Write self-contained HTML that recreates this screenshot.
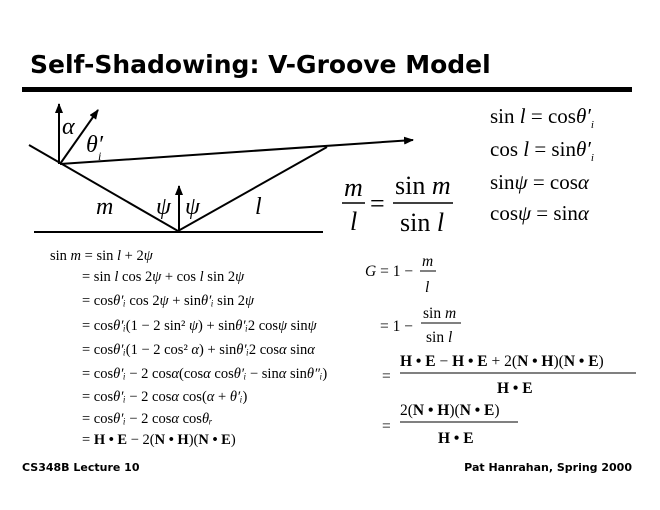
<!DOCTYPE html>
<html><head><meta charset="utf-8"><style>
html,body{margin:0;padding:0;background:#fff;}
svg{display:block}
.s{font-family:"Liberation Serif",serif;}
.b{font-family:"DejaVu Sans","Liberation Sans",sans-serif;font-weight:bold;}
</style></head><body>
<svg width="660" height="510" viewBox="0 0 660 510" xmlns="http://www.w3.org/2000/svg">
<defs><marker id="a" markerWidth="10" markerHeight="8" refX="9" refY="4" orient="auto" markerUnits="userSpaceOnUse"><path d="M0,0 L10,4 L0,8 Z" fill="#000"/></marker></defs>
<text class="b" x="30" y="73" font-size="25">Self-Shadowing: V-Groove Model</text>
<rect x="22" y="87" width="610" height="5" fill="#000"/>
<g stroke="#000" stroke-width="2" fill="none">
<polyline points="29,145 178,231 327,147"/>
<line x1="34" y1="232" x2="323" y2="232"/>
<line x1="60" y1="164" x2="413" y2="140" marker-end="url(#a)"/>
<line x1="59" y1="164" x2="59" y2="104" marker-end="url(#a)"/>
<line x1="60" y1="164" x2="98" y2="110" marker-end="url(#a)"/>
<line x1="179" y1="230" x2="179" y2="186" marker-end="url(#a)"/>
</g>
<g class="s" font-style="italic" font-size="24">
<text x="62" y="134">α</text>
<text x="86" y="152">θ′</text><text x="98" y="160" font-size="12">i</text>
<text x="96" y="214">m</text>
<text x="156" y="214">ψ</text>
<text x="185" y="214">ψ</text>
<text x="255" y="214">l</text>
</g>
<g class="s" font-size="26">
<text x="344" y="196" font-style="italic">m</text>
<line x1="342" y1="203" x2="365" y2="203" stroke="#000" stroke-width="1.5"/>
<text x="350" y="230" font-style="italic">l</text>
<text x="370" y="212">=</text>
<text x="395" y="194">sin <tspan font-style="italic">m</tspan></text>
<line x1="393" y1="203" x2="453" y2="203" stroke="#000" stroke-width="1.5"/>
<text x="400" y="231">sin <tspan font-style="italic">l</tspan></text>
</g>
<g class="s" font-size="21">
<text x="490" y="123">sin <tspan font-style="italic">l</tspan> = cos<tspan font-style="italic">θ′</tspan><tspan font-size="11" font-style="italic" dy="5">i</tspan></text>
<text x="490" y="156">cos <tspan font-style="italic">l</tspan> = sin<tspan font-style="italic">θ′</tspan><tspan font-size="11" font-style="italic" dy="5">i</tspan></text>
<text x="490" y="189">sin<tspan font-style="italic">ψ</tspan> = cos<tspan font-style="italic">α</tspan></text>
<text x="490" y="220">cos<tspan font-style="italic">ψ</tspan> = sin<tspan font-style="italic">α</tspan></text>
</g>
<g class="s" font-size="14.5">
<text x="50" y="260">sin <tspan font-style="italic">m</tspan> = sin <tspan font-style="italic">l</tspan> + 2<tspan font-style="italic">ψ</tspan></text>
<text x="82" y="281">= sin <tspan font-style="italic">l</tspan> cos 2<tspan font-style="italic">ψ</tspan> + cos <tspan font-style="italic">l</tspan> sin 2<tspan font-style="italic">ψ</tspan></text>
<text x="82" y="305">= cos<tspan font-style="italic">θ′ᵢ</tspan> cos 2<tspan font-style="italic">ψ</tspan> + sin<tspan font-style="italic">θ′ᵢ</tspan> sin 2<tspan font-style="italic">ψ</tspan></text>
<text x="82" y="330">= cos<tspan font-style="italic">θ′ᵢ</tspan>(1 − 2 sin² <tspan font-style="italic">ψ</tspan>) + sin<tspan font-style="italic">θ′ᵢ</tspan>2 cos<tspan font-style="italic">ψ</tspan> sin<tspan font-style="italic">ψ</tspan></text>
<text x="82" y="354">= cos<tspan font-style="italic">θ′ᵢ</tspan>(1 − 2 cos² <tspan font-style="italic">α</tspan>) + sin<tspan font-style="italic">θ′ᵢ</tspan>2 cos<tspan font-style="italic">α</tspan> sin<tspan font-style="italic">α</tspan></text>
<text x="82" y="378">= cos<tspan font-style="italic">θ′ᵢ</tspan> − 2 cos<tspan font-style="italic">α</tspan>(cos<tspan font-style="italic">α</tspan> cos<tspan font-style="italic">θ′ᵢ</tspan> − sin<tspan font-style="italic">α</tspan> sin<tspan font-style="italic">θ″ᵢ</tspan>)</text>
<text x="82" y="401">= cos<tspan font-style="italic">θ′ᵢ</tspan> − 2 cos<tspan font-style="italic">α</tspan> cos(<tspan font-style="italic">α</tspan> + <tspan font-style="italic">θ′ᵢ</tspan>)</text>
<text x="82" y="423">= cos<tspan font-style="italic">θ′ᵢ</tspan> − 2 cos<tspan font-style="italic">α</tspan> cos<tspan font-style="italic">θᵣ</tspan></text>
<text x="82" y="444">= <tspan font-weight="bold">H • E</tspan> − 2(<tspan font-weight="bold">N • H</tspan>)(<tspan font-weight="bold">N • E</tspan>)</text>
</g>
<g class="s" font-size="15.5" stroke-width="1">
<text x="365" y="276"><tspan font-style="italic">G</tspan> = 1 −</text>
<text x="422" y="266" font-style="italic">m</text>
<line x1="420" y1="271" x2="436" y2="271" stroke="#000"/>
<text x="425" y="292" font-style="italic">l</text>
<text x="380" y="331">= 1 −</text>
<text x="423" y="318">sin <tspan font-style="italic">m</tspan></text>
<line x1="421" y1="323" x2="461" y2="323" stroke="#000"/>
<text x="426" y="342">sin <tspan font-style="italic">l</tspan></text>
<text x="382" y="381">=</text>
<text x="400" y="366"><tspan font-weight="bold">H • E</tspan> − <tspan font-weight="bold">H • E</tspan> + 2(<tspan font-weight="bold">N • H</tspan>)(<tspan font-weight="bold">N • E</tspan>)</text>
<line x1="400" y1="373" x2="636" y2="373" stroke="#000"/>
<text x="497" y="393" font-weight="bold">H • E</text>
<text x="382" y="431">=</text>
<text x="400" y="415">2(<tspan font-weight="bold">N • H</tspan>)(<tspan font-weight="bold">N • E</tspan>)</text>
<line x1="400" y1="422" x2="518" y2="422" stroke="#000"/>
<text x="438" y="443" font-weight="bold">H • E</text>
</g>
<text class="b" x="22" y="471" font-size="11">CS348B Lecture 10</text>
<text class="b" x="632" y="471" font-size="11" text-anchor="end">Pat Hanrahan, Spring 2000</text>
</svg>
</body></html>
